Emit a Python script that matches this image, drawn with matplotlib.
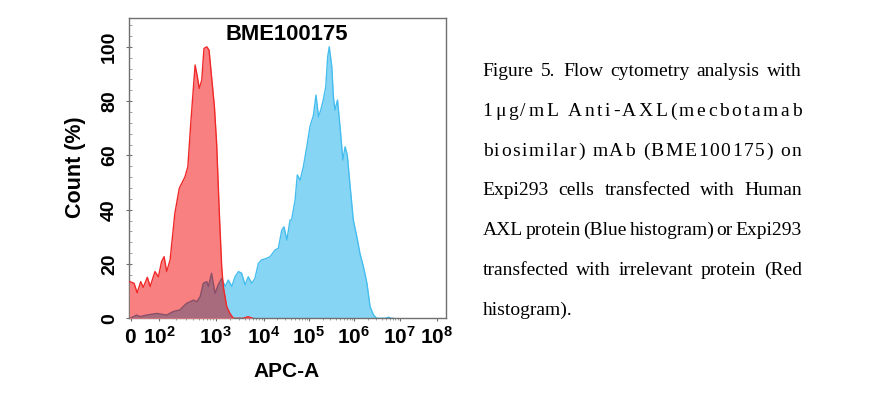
import numpy as np
import matplotlib
matplotlib.use("Agg")
import matplotlib.pyplot as plt
from matplotlib import font_manager
from matplotlib.ft2font import FT2Font

plt.rcParams['font.family'] = ['Liberation Sans', 'DejaVu Sans']
plt.rcParams['mathtext.fontset'] = 'custom'
plt.rcParams['mathtext.bf'] = 'Liberation Sans:bold'
plt.rcParams['mathtext.rm'] = 'Liberation Sans'

# x is in axis channel units (0..1000 across the biexponential APC-A axis)
red_x = [0, 2, 15, 25, 36, 44, 57, 66, 81, 92, 102, 110, 118, 129, 144, 158,
         176, 185, 195, 208, 215, 221, 229, 236, 245, 252, 260, 269, 276,
         285, 292, 297, 308, 318, 329, 360, 375, 390]
red_y = [13.5, 13.5, 12.9, 9.4, 13.5, 11.4, 15.1, 11.7, 17.2, 15.3, 20.9, 22.7,
         17.2, 21.5, 38.7, 47.9, 52.1, 55.8, 73.0, 93.3, 89.0, 84.7, 87.7, 99.4,
         100, 98.8, 89.0, 77.9, 64.4, 37.4, 19.0, 11.7, 4.3, 1.8, 0, 0, 0.6, 0]

blue_x = [0, 2, 13, 23, 34, 55, 87, 118, 139, 160, 181, 203, 213, 224, 234, 245,
          250, 260, 271, 281, 292, 303, 313, 324, 334, 345, 355, 366, 376, 387,
          397, 408, 418, 434, 445, 461, 471, 482, 489, 498, 508, 513, 524, 531,
          540, 550, 561, 571, 582, 590, 598, 605, 613, 621, 627, 632, 640, 645,
          650, 658, 666, 675, 682, 689, 698, 708, 719, 729, 740, 751, 761, 772,
          782, 810, 819, 828, 835]
blue_y = [0, 0, 0.6, 1.2, 0.6, 1.2, 1.8, 1.2, 2.5, 3.1, 5.5, 6.7, 6.1, 8.0, 12.9,
          13.5, 11.7, 16.6, 9.2, 12.3, 14.7, 11.7, 14.1, 11.7, 15.3, 17.2, 16.6,
          12.3, 15.3, 12.9, 14.7, 20.2, 21.5, 22.1, 22.7, 25.2, 25.8, 32.5, 33.7,
          28.8, 36.2, 36.2, 43.6, 52.8, 50.9, 55.8, 63.2, 70.6, 74.8, 82.2, 74.2,
          76.7, 80.4, 85.3, 96.3, 100, 92.6, 81.6, 76.7, 80.4, 70.6, 58.3, 63.2,
          60.1, 48.5, 36.2, 30.1, 23.9, 19.0, 12.9, 4.3, 1.2, 0, 0, 0.4, 0, 0]

tick_pos = [4, 95, 273, 425, 568, 710, 855, 972]
tick_lab = [r'$\mathbf{0}$', r'$\mathbf{10^{2}}$', r'$\mathbf{10^{3}}$',
            r'$\mathbf{10^{4}}$', r'$\mathbf{10^{5}}$', r'$\mathbf{10^{6}}$',
            r'$\mathbf{10^{7}}$', r'$\mathbf{10^{8}}$']

caption = [
    ("Figure 5. Flow cytometry analysis with", "words"),
    ("1\u03bcg/mL Anti-AXL(mecbotamab", "chars"),
    ("biosimilar) mAb (BME100175) on", "chars"),
    ("Expi293 cells transfected with Human", "words"),
    ("AXL protein (Blue histogram) or Expi293", "words"),
    ("transfected with irrelevant protein (Red", "words"),
    ("histogram).", "left"),
]

W, H = 871, 400
fig = plt.figure(figsize=(W / 100, H / 100), dpi=100)
ax = fig.add_axes([129.3 / W, 1 - 318.3 / H, 316.4 / W, 300 / H])

red_c, red_e = '#f98080', '#f02828'
blue_c, blue_e = '#87d5f5', '#45bdee'
mix_c, mix_e = '#a86a7d', '#8a5068'

bpoly = ax.fill_between(blue_x, blue_y, color=blue_c, lw=0, zorder=1)
ax.plot(blue_x, blue_y, color=blue_e, lw=1.0, zorder=2)
rpoly = ax.fill_between(red_x, red_y, color=red_c, lw=0, zorder=3)
ov = ax.fill_between(red_x, red_y, color=mix_c, lw=0, zorder=4)
ov.set_clip_path(bpoly.get_paths()[0], ax.transData)
bl, = ax.plot(blue_x, blue_y, color=mix_e, lw=1.0, zorder=5)
bl.set_clip_path(rpoly.get_paths()[0], ax.transData)
ax.plot(red_x, red_y, color=red_e, lw=1.0, zorder=6)

ax.set_xlim(0, 1000)
ax.set_ylim(0, 110.5)
ax.set_xticks(tick_pos, tick_lab)
minors = []
for a, b in zip(tick_pos[1:6], tick_pos[2:7]):
    minors += [a + np.log10(m) * (b - a) for m in range(2, 10)]
ax.set_xticks(minors, minor=True)
ax.set_yticks([0, 20, 40, 60, 80, 100])
ax.set_yticks(np.arange(0, 110, 4), minor=True)

for s in ax.spines.values():
    s.set_color('#707070')
    s.set_linewidth(1.0)
ax.tick_params(axis='x', which='major', direction='out', length=2.5, width=0.8,
               color='#707070', labelsize=15, pad=15.5)
ax.tick_params(axis='x', which='minor', direction='out', length=1.5, width=0.6,
               color='#909090')
ax.tick_params(axis='y', which='major', direction='inout', length=4, width=0.8,
               color='#707070', labelsize=14, pad=6, labelrotation=90)
ax.tick_params(axis='y', which='minor', direction='in', length=2, width=0.6,
               color='#909090')
for lab in ax.get_yticklabels():
    lab.set_va('center')
    lab.set_fontweight('bold')
for lab in ax.get_xticklabels():
    lab.set_va('baseline')

ax.text(0.4975, 0.947, 'BME100175', transform=ax.transAxes, ha='center',
        va='center', fontsize=15.8, fontweight='bold')
fig.text(75 / W, 1 - 167 / H, 'Count (%)', rotation=90, ha='center',
         va='center', fontsize=15.5, fontweight='bold')
fig.text(286.7 / W, 1 - 371.7 / H, 'APC-A', ha='center', va='center',
         fontsize=15, fontweight='bold')

# justified caption, glyph advances taken from the font itself
x0, x1 = 482.7, 801.7
fs = 14
cap_font = dict(fontsize=fs, family='Liberation Serif', va='baseline')
ft = FT2Font(font_manager.findfont(font_manager.FontProperties(family='Liberation Serif')))
ft.set_size(fs, 100)


def adv(s):
    total = 0.0
    for c in s:
        g = ft.load_char(ord(c))
        total += g.linearHoriAdvance / 65536
    return total


for i, (line, mode) in enumerate(caption):
    yb = 1 - (76 + 39.8 * i) / H
    if mode == 'left':
        fig.text(x0 / W, yb, line, **cap_font)
        continue
    natural = adv(line)
    if mode == 'words':
        toks = line.split(' ')
        extra = (x1 - x0 - natural) / (len(toks) - 1)
        start = 0
        for j, t in enumerate(toks):
            x = x0 + adv(line[:start]) + j * extra
            fig.text(x / W, yb, t, **cap_font)
            start += len(t) + 1
    else:
        extra = (x1 - x0 - natural) / (len(line) - 1)
        for k, c in enumerate(line):
            if c == ' ':
                continue
            x = x0 + adv(line[:k]) + k * extra
            fig.text(x / W, yb, c, **cap_font)

fig.savefig('out.png', dpi=100)
